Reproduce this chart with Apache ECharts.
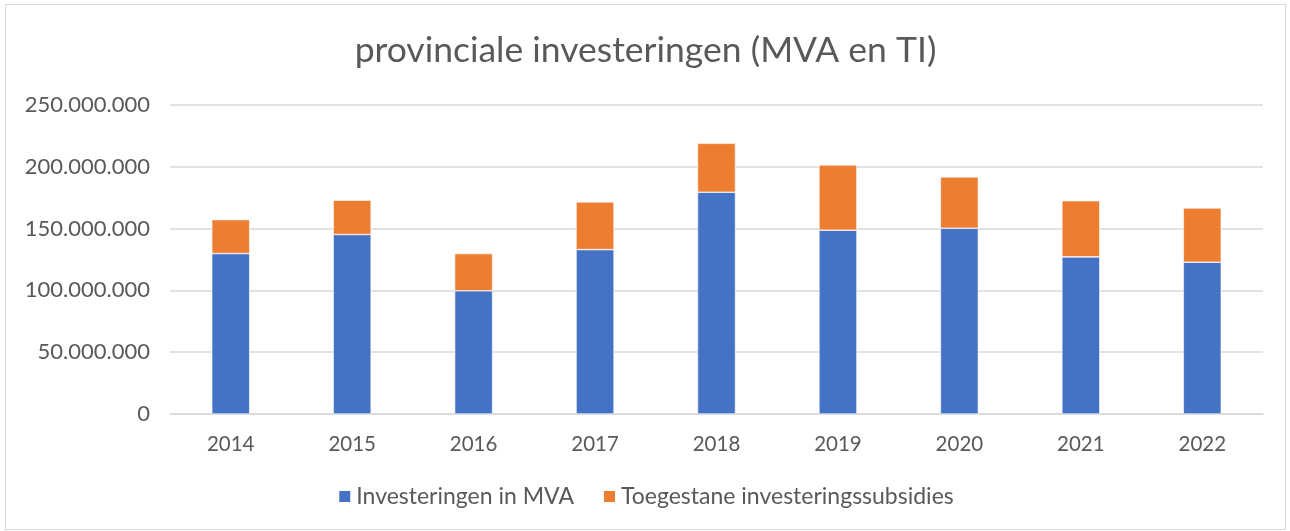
<!DOCTYPE html>
<html>
<head>
<meta charset="utf-8">
<script src="https://cdn.jsdelivr.net/npm/echarts@6/dist/echarts.min.js"></script>
<style>
  html, body { margin: 0; padding: 0; background: #fff; }
  #chart { position: absolute; left: 5px; top: 4px; width: 1279px; height: 524px; border: 1px solid #d9d9d9; }
</style>
</head>
<body>
<div id="chart"></div>
<script>
// jaren
var years = ['2014', '2015', '2016', '2017', '2018', '2019', '2020', '2021', '2022'];
// investeringen in MVA (euro)
var mva = [129800000, 145200000, 99700000, 133000000, 179400000, 148700000, 150300000, 127100000, 122800000];
// toegestane investeringssubsidies (euro)
var subsidies = [27500000, 27800000, 30100000, 38600000, 39600000, 52800000, 41500000, 45500000, 43900000];

var textColor = '#595959';
var fontName = 'Lato';

function fmt(v) {
    return String(v).replace(/\B(?=(\d{3})+(?!\d))/g, '.');
}

var myChart = echarts.init(document.getElementById('chart'));
var option = {
    animation: false,
    title: {
        text: 'provinciale investeringen (MVA en TI)',
        left: 'center',
        top: 23,
        textStyle: { color: textColor, fontFamily: fontName, fontSize: 35.5, fontWeight: 'normal' }
    },
    legend: {
        bottom: 16,
        left: 'center',
        itemWidth: 13,
        itemHeight: 13,
        itemGap: 28,
        icon: 'rect',
        textStyle: { color: textColor, fontFamily: fontName, fontSize: 23 },
        data: ['Investeringen in MVA', 'Toegestane investeringssubsidies']
    },
    grid: { left: 164, right: 22, top: 100, bottom: 115, containLabel: false },
    xAxis: {
        type: 'category',
        data: years,
        axisLine: { lineStyle: { color: '#d9d9d9', width: 1.5 } },
        axisTick: { show: false },
        axisLabel: { color: textColor, fontFamily: fontName, fontSize: 20.5, margin: 20 }
    },
    yAxis: {
        type: 'value',
        min: 0,
        max: 250000000,
        interval: 50000000,
        axisLine: { show: false },
        axisTick: { show: false },
        splitLine: { lineStyle: { color: '#d9d9d9', width: 1.5 } },
        axisLabel: { color: textColor, fontFamily: fontName, fontSize: 22, margin: 20, formatter: fmt }
    },
    series: [
        {
            name: 'Investeringen in MVA',
            type: 'bar',
            stack: 'totaal',
            barWidth: 38,
            itemStyle: { color: '#4472c4', borderColor: '#ffffff', borderWidth: 0.6 },
            data: mva
        },
        {
            name: 'Toegestane investeringssubsidies',
            type: 'bar',
            stack: 'totaal',
            barWidth: 38,
            itemStyle: { color: '#ed7d31', borderColor: '#ffffff', borderWidth: 0.6 },
            data: subsidies
        }
    ]
};
myChart.setOption(option);
</script>
</body>
</html>
